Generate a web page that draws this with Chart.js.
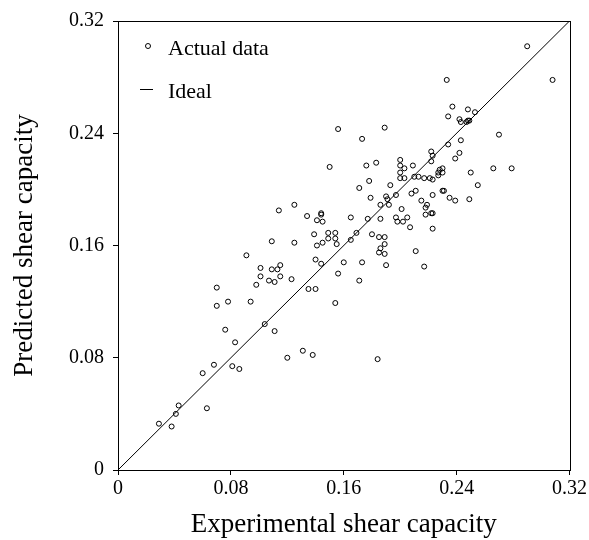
<!DOCTYPE html>
<html>
<head>
<meta charset="utf-8">
<script src="https://cdn.jsdelivr.net/npm/chart.js@4.4.0/dist/chart.umd.min.js"></script>
<style>
    body { margin: 0; background: #fff; }
    #wrap { position: relative; width: 589px; height: 540px; }
    .leg { position: absolute; font-family: "Liberation Serif", serif; font-size: 22px; line-height: 22px; color: #000; white-space: nowrap; }
    .dot { position: absolute; width: 4px; height: 4px; border: 1px solid #000; border-radius: 50%; }
    .dash { position: absolute; width: 13px; height: 0; border-top: 1px solid #000; }
</style>
</head>
<body>
<div id="wrap">
    <canvas id="scatterChart" width="589" height="540"></canvas>
    <span class="dot" style="left:145px; top:43px;"></span>
    <span class="leg" style="left:168px; top:37px;">Actual data</span>
    <span class="dash" style="left:140px; top:89px;"></span>
    <span class="leg" style="left:168px; top:80px;">Ideal</span>
</div>
<script>
// experimental vs predicted shear capacity
const experimental = [
    0.070, 0.078, 0.076, 0.083, 0.068, 0.060, 0.081, 0.063, 0.043, 0.041, 0.029, 0.038,
    0.125, 0.114, 0.134, 0.141, 0.109, 0.125, 0.139, 0.141, 0.140, 0.091, 0.101, 0.109,
    0.113, 0.115, 0.101, 0.107, 0.111, 0.115, 0.123, 0.098, 0.070, 0.094, 0.135, 0.140,
    0.104, 0.111, 0.156, 0.189, 0.173, 0.150, 0.176, 0.183, 0.200, 0.200, 0.203, 0.209,
    0.222, 0.223, 0.222, 0.200, 0.200, 0.203, 0.210, 0.213, 0.217, 0.221, 0.223, 0.228,
    0.230, 0.227, 0.230, 0.227, 0.178, 0.171, 0.193, 0.179, 0.190, 0.191, 0.192, 0.197,
    0.186, 0.208, 0.211, 0.223, 0.215, 0.219, 0.218, 0.201, 0.222, 0.223, 0.218, 0.197,
    0.198, 0.202, 0.205, 0.207, 0.223, 0.186, 0.177, 0.165, 0.144, 0.144, 0.145, 0.149,
    0.154, 0.149, 0.154, 0.145, 0.155, 0.165, 0.169, 0.180, 0.185, 0.189, 0.189, 0.186,
    0.185, 0.189, 0.211, 0.144, 0.160, 0.173, 0.190, 0.217, 0.156, 0.171, 0.290, 0.308,
    0.233, 0.237, 0.248, 0.253, 0.234, 0.242, 0.243, 0.247, 0.248, 0.249, 0.243, 0.270,
    0.234, 0.242, 0.239, 0.250, 0.266, 0.279, 0.255, 0.230, 0.231, 0.235, 0.239, 0.249,
    0.086, 0.120, 0.131, 0.138, 0.154, 0.184
];
const predicted = [
    0.117, 0.120, 0.100, 0.091, 0.075, 0.069, 0.074, 0.044, 0.046, 0.040, 0.033, 0.031,
    0.189, 0.185, 0.181, 0.178, 0.163, 0.162, 0.168, 0.160, 0.150, 0.153, 0.144, 0.143,
    0.143, 0.146, 0.138, 0.135, 0.134, 0.138, 0.136, 0.132, 0.130, 0.120, 0.129, 0.129,
    0.104, 0.099, 0.243, 0.244, 0.236, 0.216, 0.217, 0.219, 0.221, 0.217, 0.215, 0.217,
    0.227, 0.224, 0.220, 0.212, 0.208, 0.208, 0.209, 0.209, 0.208, 0.208, 0.207, 0.214,
    0.215, 0.212, 0.212, 0.210, 0.206, 0.201, 0.203, 0.194, 0.195, 0.193, 0.189, 0.196,
    0.189, 0.197, 0.199, 0.196, 0.192, 0.189, 0.187, 0.186, 0.183, 0.183, 0.182, 0.180,
    0.177, 0.177, 0.180, 0.173, 0.172, 0.179, 0.179, 0.180, 0.183, 0.182, 0.177, 0.169,
    0.169, 0.165, 0.165, 0.162, 0.161, 0.164, 0.169, 0.168, 0.166, 0.166, 0.161, 0.158,
    0.155, 0.154, 0.156, 0.147, 0.148, 0.148, 0.146, 0.145, 0.140, 0.135, 0.302, 0.278,
    0.278, 0.259, 0.257, 0.255, 0.252, 0.250, 0.248, 0.248, 0.249, 0.249, 0.235, 0.239,
    0.232, 0.226, 0.222, 0.212, 0.215, 0.215, 0.203, 0.199, 0.199, 0.194, 0.192, 0.193,
    0.072, 0.080, 0.085, 0.082, 0.119, 0.079
];
const idealLine = [0, 0.32];
const tickValues = [0, 0.08, 0.16, 0.24, 0.32];

const serif = "'Liberation Serif', 'Times New Roman', serif";

const points = experimental.map((x, i) => ({ x: x, y: predicted[i] }));

// full box round the plot area
const frame = {
    id: "frame",
    afterDraw(chart) {
        const a = chart.chartArea;
        const c = chart.ctx;
        c.save();
        c.strokeStyle = "#000";
        c.lineWidth = 1;
        c.strokeRect(Math.round(a.left) + 0.5, Math.round(a.top) + 0.5,
            Math.round(a.right - a.left), Math.round(a.bottom - a.top));
        c.restore();
    }
};

function fmt(v) {
    return v === 0 ? "0" : v.toFixed(2);
}

const ctx = document.getElementById("scatterChart").getContext("2d");
new Chart(ctx, {
    type: "scatter",
    data: {
        datasets: [
            {
                label: "Actual data",
                data: points,
                pointRadius: 2.5,
                pointBorderWidth: 1,
                borderColor: "#000",
                backgroundColor: "rgba(255,255,255,0)",
            },
            {
                label: "Ideal",
                type: "line",
                data: idealLine.map(v => ({ x: v, y: v })),
                borderColor: "#000",
                borderWidth: 1,
                pointRadius: 0,
                showLine: true,
                fill: false,
            },
        ],
    },
    options: {
        responsive: false,
        animation: false,
        layout: { padding: { left: 0, right: 18, top: 19, bottom: 0 } },
        plugins: {
            legend: { display: false },
            tooltip: { enabled: false },
        },
        scales: {
            x: {
                type: "linear",
                min: 0,
                max: 0.32,
                afterBuildTicks: s => { s.ticks = tickValues.map(v => ({ value: v })); },
                afterFit: s => { s.height = 70; },
                ticks: { callback: fmt, color: "#000", font: { family: serif, size: 20 }, padding: 2, maxRotation: 0 },
                grid: { drawOnChartArea: false, tickLength: 5, color: "#000" },
                border: { color: "#000", width: 1 },
                title: {
                    display: true,
                    text: "Experimental shear capacity",
                    color: "#000",
                    font: { family: serif, size: 27, lineHeight: 1 },
                    padding: { top: 0, bottom: 2 },
                },
            },
            y: {
                type: "linear",
                min: 0,
                max: 0.32,
                afterBuildTicks: s => { s.ticks = tickValues.map(v => ({ value: v })); },
                afterFit: s => { s.width = 118; },
                ticks: { callback: fmt, color: "#000", font: { family: serif, size: 20 }, padding: 9 },
                grid: { drawOnChartArea: false, tickLength: 5, color: "#000" },
                border: { color: "#000", width: 1 },
                title: {
                    display: true,
                    text: "Predicted shear capacity",
                    color: "#000",
                    font: { family: serif, size: 27, lineHeight: 1 },
                    padding: { top: 11, bottom: 0 },
                },
            },
        },
    },
    plugins: [frame],
});
</script>
</body>
</html>
